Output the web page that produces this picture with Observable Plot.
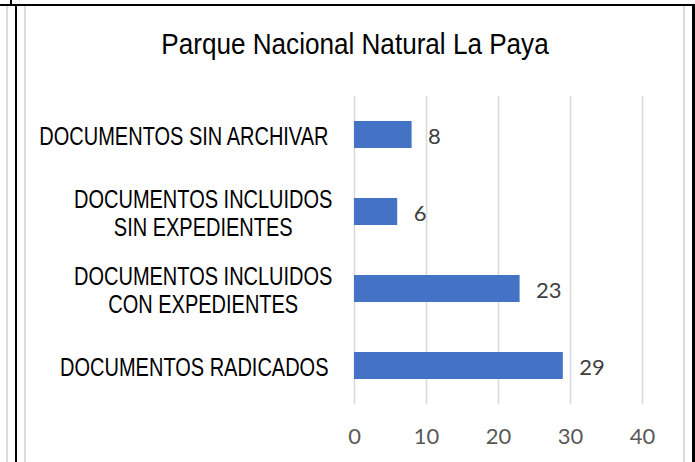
<!DOCTYPE html>
<html>
<head>
<meta charset="utf-8">
<script src="https://cdn.jsdelivr.net/npm/d3@7"></script>
<script src="https://cdn.jsdelivr.net/npm/@observablehq/plot@0.6"></script>
<style>
  html, body { margin: 0; padding: 0; background: #fff; }
  #wrap { position: relative; width: 695px; height: 462px; overflow: hidden; background: #fff; }
  .ln { position: absolute; }
  #title { position: absolute; left: 0; width: 710px; top: 28px; text-align: center;
           font-family: "Liberation Sans", Arial, sans-serif;
           font-size: 29px; color: #000; white-space: nowrap;
           transform: scaleX(0.9); transform-origin: 355px 0; }
  #chart { position: absolute; left: 0; top: 0; }
</style>
</head>
<body>
<div id="wrap">
  <div class="ln" style="left:6px;top:6px;width:2px;height:460px;background:#dcdcdc"></div>
  <div class="ln" style="left:24px;top:6px;width:2px;height:460px;background:#dcdcdc"></div>
  <div class="ln" style="left:683px;top:6px;width:2px;height:460px;background:#dcdcdc"></div>
  <div class="ln" style="left:0px;top:4px;width:695px;height:2px;background:#000"></div>
  <div class="ln" style="left:10px;top:0px;width:2px;height:5px;background:#000"></div>
  <div class="ln" style="left:15px;top:4px;width:2px;height:460px;background:#000"></div>
  <div class="ln" style="left:692px;top:4px;width:3px;height:460px;background:#000"></div>
  <div id="chart"></div>
  <div id="title">Parque Nacional Natural La Paya</div>
</div>
<script>
const categories = [
  "DOCUMENTOS SIN ARCHIVAR",
  "DOCUMENTOS INCLUIDOS\nSIN EXPEDIENTES",
  "DOCUMENTOS INCLUIDOS\nCON EXPEDIENTES",
  "DOCUMENTOS RADICADOS"
];
const values = [8, 6, 23, 29];
const xTicks = [0, 10, 20, 30, 40];

const data = categories.map((c, i) => ({category: c, value: values[i]}));

const chart = Plot.plot({
  width: 695,
  height: 462,
  marginLeft: 354,
  marginRight: 53,
  marginTop: 96,
  marginBottom: 58,
  style: {background: "transparent", overflow: "visible"},
  x: {domain: [0, 40], ticks: xTicks},
  y: {domain: categories, paddingInner: 0.65, paddingOuter: 0.325, axis: null},
  marks: [
    Plot.gridX(xTicks, {stroke: "#d9d9d9", strokeOpacity: 1, strokeWidth: 1.6}),
    Plot.barX(data, {x: "value", y: "category", fill: "#4472C4"}),
    Plot.text(data, {x: "value", y: "category", text: d => String(d.value), textAnchor: "start", dx: 16, dy: 2,
      fill: "#404040", fontSize: 22, fontFamily: "Lato, 'Open Sans', sans-serif"}),
    Plot.text(data, {x: 0, y: "category", text: "category", textAnchor: "end", dx: -26, dy: 1,
      fill: "#000", fontSize: 25, lineHeight: 1.12, fontFamily: "'Liberation Sans', Arial, sans-serif", className: "catlab"}),
    Plot.axisX(xTicks, {tickSize: 0, tickPadding: 24, fill: "#595959", fontSize: 22,
      fontFamily: "Lato, 'Open Sans', sans-serif", label: null})
  ]
});
document.getElementById("chart").appendChild(chart);

// condense the category labels horizontally and center multi-line ones within their right-aligned block
const squeeze = 0.8;
d3.select(chart).selectAll("g.catlab text").each(function() {
  const t = d3.select(this);
  const spans = t.selectAll("tspan").nodes();
  let tr = (t.attr("transform") || "");
  if (spans.length > 1) {
    const w = d3.max(spans, s => s.getComputedTextLength());
    t.attr("text-anchor", "middle");
    tr += ` translate(4,0) scale(${squeeze},1) translate(${-w / 2},0)`;
  } else {
    tr += ` scale(${squeeze},1)`;
  }
  t.attr("transform", tr);
});
</script>
</body>
</html>
